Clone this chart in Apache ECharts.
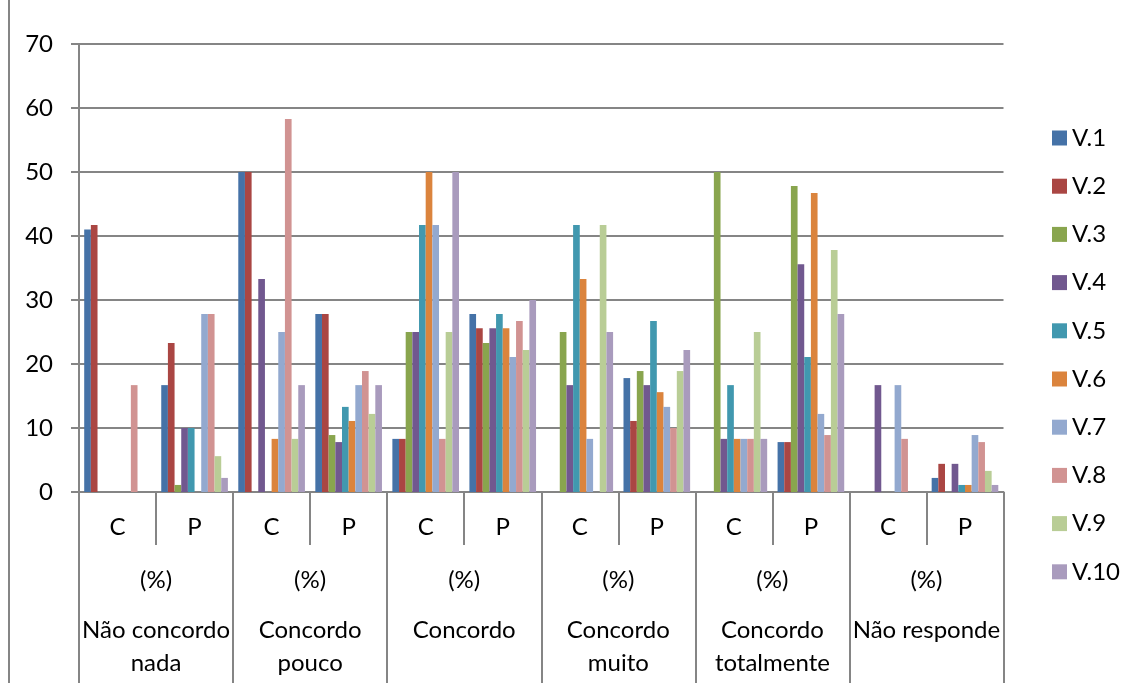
<!DOCTYPE html>
<html>
<head>
<meta charset="utf-8">
<script src="https://cdn.jsdelivr.net/npm/echarts@6/dist/echarts.min.js"></script>
<style>
  html, body { margin: 0; padding: 0; background: #fff; }
  #chart { width: 1131px; height: 683px; }
</style>
</head>
<body>
<div id="chart"></div>
<script>
// Response levels (top-level categories) and the C / P split within each
const responseLevels = ['Não concordo\nnada', 'Concordo\npouco', 'Concordo', 'Concordo\nmuito', 'Concordo\ntotalmente', 'Não responde'];
const unitRow = ['(%)', '(%)', '(%)', '(%)', '(%)', '(%)'];
const subGroups = ['C', 'P', 'C', 'P', 'C', 'P', 'C', 'P', 'C', 'P', 'C', 'P'];

const seriesNames = ['V.1', 'V.2', 'V.3', 'V.4', 'V.5', 'V.6', 'V.7', 'V.8', 'V.9', 'V.10'];

// Percentages per variable, in subGroups order
const v1  = [41.0, 16.7, 50.0, 27.8,  8.3, 27.8,  0.0, 17.8,  0.0,  7.8,  0.0, 2.2];
const v2  = [41.7, 23.3, 50.0, 27.8,  8.3, 25.6,  0.0, 11.1,  0.0,  7.8,  0.0, 4.4];
const v3  = [ 0.0,  1.1,  0.0,  8.9, 25.0, 23.3, 25.0, 18.9, 50.0, 47.8,  0.0, 0.0];
const v4  = [ 0.0, 10.0, 33.3,  7.8, 25.0, 25.6, 16.7, 16.7,  8.3, 35.6, 16.7, 4.4];
const v5  = [ 0.0, 10.0,  0.0, 13.3, 41.7, 27.8, 41.7, 26.7, 16.7, 21.1,  0.0, 1.1];
const v6  = [ 0.0,  0.0,  8.3, 11.1, 50.0, 25.6, 33.3, 15.6,  8.3, 46.7,  0.0, 1.1];
const v7  = [ 0.0, 27.8, 25.0, 16.7, 41.7, 21.1,  8.3, 13.3,  8.3, 12.2, 16.7, 8.9];
const v8  = [16.7, 27.8, 58.3, 18.9,  8.3, 26.7,  0.0, 10.0,  8.3,  8.9,  8.3, 7.8];
const v9  = [ 0.0,  5.6,  8.3, 12.2, 25.0, 22.2, 41.7, 18.9, 25.0, 37.8,  0.0, 3.3];
const v10 = [ 0.0,  2.2, 16.7, 16.7, 50.0, 30.0, 25.0, 22.2,  8.3, 27.8,  0.0, 1.1];

const seriesValues = [v1, v2, v3, v4, v5, v6, v7, v8, v9, v10];

const colors = ['#4572A7', '#AA4643', '#89A54E', '#71588F', '#4198AF',
                '#DB843D', '#93A9CF', '#D19392', '#B9CD96', '#A99BBD'];

const FONT = 'Lato';
const GRID_GREY = '#858585';
const labelBase = { color: '#000', fontFamily: FONT, fontSize: 24, lineHeight: 33, interval: 0 };

const chart = echarts.init(document.getElementById('chart'), null, { renderer: 'canvas' });

chart.setOption({
  animation: false,
  color: colors,
  grid: { left: 79, right: 127.5, top: 44, bottom: 191, containLabel: false, outerBoundsMode: 'none' },
  legend: {
    orient: 'vertical',
    left: 1047,
    top: 121,
    icon: 'rect',
    itemWidth: 15,
    itemHeight: 15,
    itemGap: 24.2,
    selectedMode: false,
    textStyle: { color: '#000', fontFamily: FONT, fontSize: 24 },
    data: seriesNames
  },
  xAxis: [
    {
      type: 'category',
      position: 'bottom',
      data: subGroups,
      axisLine: { show: true, lineStyle: { color: GRID_GREY, width: 2 } },
      axisTick: { show: true, length: 53, lineStyle: { color: GRID_GREY, width: 2 } },
      axisLabel: Object.assign({}, labelBase, { margin: 18.5 })
    },
    {
      type: 'category',
      position: 'bottom',
      data: unitRow,
      axisLine: { show: false },
      axisTick: { show: true, length: 191, lineStyle: { color: GRID_GREY, width: 2 } },
      axisLabel: Object.assign({}, labelBase, { margin: 71.5 })
    },
    {
      type: 'category',
      position: 'bottom',
      data: responseLevels,
      axisLine: { show: false },
      axisTick: { show: false },
      axisLabel: Object.assign({}, labelBase, { margin: 121.5 })
    }
  ],
  yAxis: {
    type: 'value',
    min: 0,
    max: 70,
    interval: 10,
    axisLine: { show: true, lineStyle: { color: GRID_GREY, width: 2 } },
    axisTick: { show: true, length: 8, lineStyle: { color: GRID_GREY, width: 2 } },
    splitLine: { show: true, lineStyle: { color: GRID_GREY, width: 2 } },
    axisLabel: { color: '#000', fontFamily: FONT, fontSize: 24, margin: 26 }
  },
  series: seriesNames.map((name, i) => ({
    name: name,
    type: 'bar',
    xAxisIndex: 0,
    data: seriesValues[i],
    barGap: '0%',
    barCategoryGap: '13.5%',
    itemStyle: { color: colors[i] }
  })),
  graphic: [
    {
      type: 'line',
      shape: { x1: 9, y1: 0, x2: 9, y2: 683 },
      style: { stroke: GRID_GREY, lineWidth: 2 }
    }
  ]
});
</script>
</body>
</html>
